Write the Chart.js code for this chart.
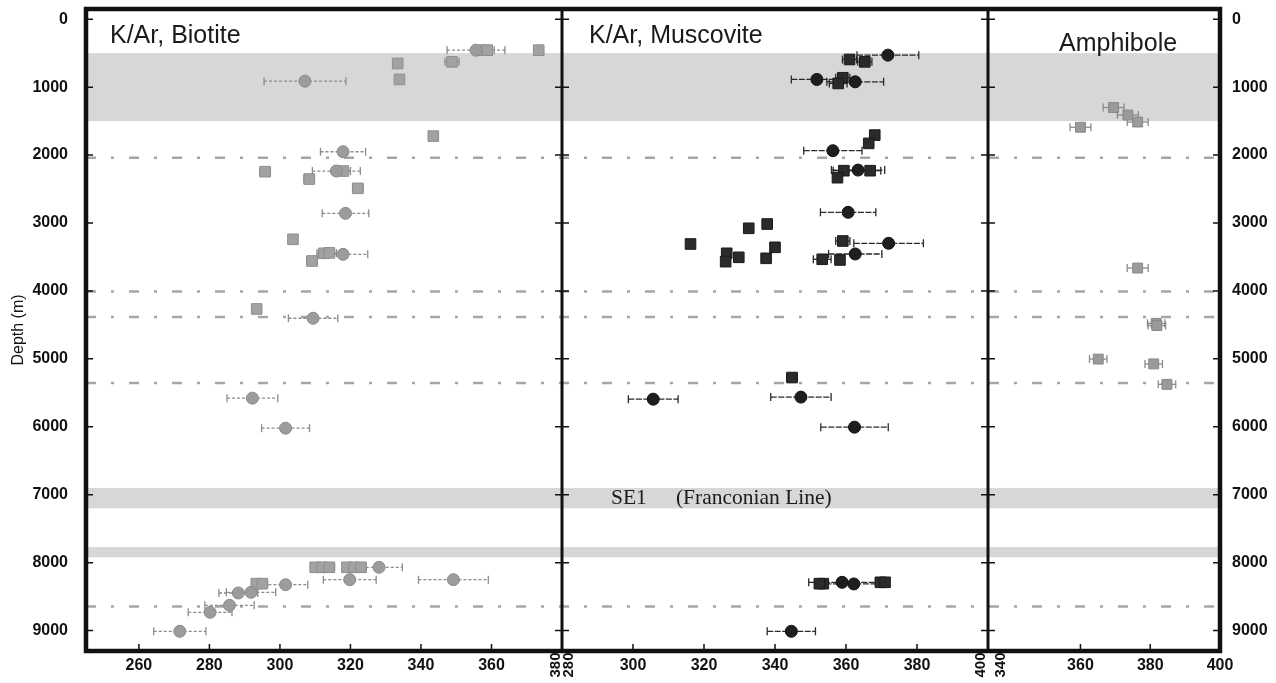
<!DOCTYPE html>
<html>
<head>
<meta charset="utf-8">
<script src="https://cdn.jsdelivr.net/npm/chart.js@4.4.1/dist/chart.umd.min.js"></script>
<style>
  html, body { margin: 0; padding: 0; background: #fff; }
  #wrap { width: 1276px; height: 683px; position: relative; }
</style>
</head>
<body>
<div id="wrap"><canvas id="chart"></canvas></div>
<script>
// K/Ar biotite (grey)
const bioCircleAge   = [355.6, 307.1, 317.9, 316.0, 318.6, 317.9, 309.4, 292.2, 301.6, 328.1, 319.8, 349.2, 301.6, 291.8, 288.2, 285.7, 280.2, 271.6];
const bioCircleDepth = [456, 912, 1951, 2235, 2858, 3461, 4402, 5578, 6020, 8068, 8250, 8250, 8324, 8436, 8446, 8628, 8730, 9010];
const bioCircleErr   = [8.2, 11.6, 6.4, 6.8, 6.6, 7.0, 7.0, 7.2, 6.8, 6.6, 7.5, 9.9, 6.3, 7.0, 5.5, 7.0, 6.2, 7.4];
const bioSquareAge   = [357.9, 358.8, 373.4, 348.8, 333.4, 333.9, 343.5, 295.8, 318.0, 308.3, 322.1, 303.7, 312.5, 314.0, 309.1, 293.4, 310.0, 312.0, 314.0, 319.0, 321.0, 323.0, 293.3, 295.0];
const bioSquareDepth = [456, 456, 456, 628, 652, 887, 1721, 2245, 2235, 2353, 2490, 3240, 3446, 3440, 3559, 4265, 8068, 8068, 8068, 8068, 8068, 8068, 8309, 8309];
const bioSquareErr   = [2, 2, 0, 2, 0, 0, 0, 1.5, 2, 1.5, 1.5, 0, 2, 2, 1.5, 0, 0, 0, 1.5, 0, 0, 1.5, 0, 1.5];

// K/Ar muscovite (black)
const musCircleAge   = [371.8, 351.8, 362.6, 356.3, 363.4, 360.6, 372.0, 362.6, 305.7, 347.3, 362.4, 358.9, 362.2, 344.6];
const musCircleDepth = [529, 887, 922, 1936, 2221, 2843, 3299, 3456, 5593, 5563, 6005, 8289, 8313, 9010];
const musCircleErr   = [8.7, 7.2, 8.0, 8.2, 7.5, 7.8, 9.8, 7.5, 7.0, 8.5, 9.5, 9.4, 8.0, 6.8];
const musSquareAge   = [361.0, 365.3, 359.1, 357.8, 368.1, 366.4, 359.4, 366.8, 357.6, 337.8, 332.6, 316.2, 359.1, 340.0, 326.4, 326.1, 329.8, 337.5, 353.3, 358.3, 344.8, 353.6, 352.5, 369.7, 371.0];
const musSquareDepth = [593, 628, 862, 946, 1706, 1828, 2230, 2230, 2333, 3015, 3078, 3309, 3265, 3358, 3446, 3569, 3505, 3520, 3534, 3544, 5275, 8309, 8309, 8289, 8289];
const musSquareErr   = [2, 2, 2, 2.5, 0, 0, 3, 3, 0, 0, 0, 0, 2, 0, 0, 0, 0, 0, 2.5, 0, 1.5, 0, 0, 0, 0];

// Amphibole (grey)
const ampAge   = [369.5, 373.6, 376.4, 360.0, 376.4, 381.7, 381.9, 365.1, 381.0, 384.8];
const ampDepth = [1300, 1411, 1514, 1591, 3663, 4477, 4509, 5003, 5074, 5375];
const ampErr   = [3, 3, 3, 3, 3, 2.5, 2.5, 2.5, 2.5, 2.5];

// axes
const depthTicks = [0, 1000, 2000, 3000, 4000, 5000, 6000, 7000, 8000, 9000];
const bioTicks = [260, 280, 300, 320, 340, 360];
const bioEdgeTicks = [380];
const musTicks = [300, 320, 340, 360, 380];
const musEdgeTicks = [280, 400];
const ampTicks = [360, 380, 400];
const ampEdgeTicks = [340];

// shaded zones and fault lines (depth, m)
const bandTop    = [500, 6900, 7770];
const bandBottom = [1500, 7200, 7920];
const faultDepths = [2040, 4010, 4385, 5355, 8645];

const pts = (xs, ys) => xs.map((x, i) => ({ x, y: ys[i] }));

const tickFont = { family: 'Liberation Sans, Arial, sans-serif', size: 16, weight: 'bold' };

const noPad = s => { s.paddingTop = 0; s.paddingBottom = 0; s.paddingLeft = 0; s.paddingRight = 0; };

const backgroundPlugin = {
  id: 'background',
  beforeDatasetsDraw(chart) {
    const { ctx, chartArea: a, scales } = chart;
    const y = scales.y;
    ctx.save();
    ctx.fillStyle = '#d7d7d7';
    bandTop.forEach((t, i) => {
      const y0 = y.getPixelForValue(t), y1 = y.getPixelForValue(bandBottom[i]);
      ctx.fillRect(a.left, y0, a.right - a.left, y1 - y0);
    });
    ctx.strokeStyle = '#a6a6a6';
    ctx.lineWidth = 2.5;
    ctx.setLineDash([10, 15, 3, 15]);
    faultDepths.forEach(d => {
      const py = y.getPixelForValue(d);
      ctx.beginPath();
      ctx.moveTo(a.left, py);
      ctx.lineTo(a.right, py);
      ctx.stroke();
    });
    ctx.restore();
  }
};

const errorBarPlugin = {
  id: 'errorBars',
  beforeDatasetsDraw(chart) {
    const ctx = chart.ctx;
    const ys = chart.scales.y;
    chart.data.datasets.forEach(ds => {
      if (!ds.errors) return;
      const xs = chart.scales[ds.xAxisID];
      ctx.save();
      ctx.strokeStyle = ds.barColor;
      ctx.lineWidth = 1.3;
      ds.data.forEach((p, j) => {
        const e = ds.errors[j];
        if (!e) return;
        const x0 = xs.getPixelForValue(p.x - e);
        const x1 = xs.getPixelForValue(p.x + e);
        const py = ys.getPixelForValue(p.y);
        ctx.setLineDash(ds.barDash || []);
        ctx.beginPath();
        ctx.moveTo(x0, py);
        ctx.lineTo(x1, py);
        ctx.stroke();
        ctx.setLineDash([]);
        ctx.beginPath();
        ctx.moveTo(x0, py - 4); ctx.lineTo(x0, py + 4);
        ctx.moveTo(x1, py - 4); ctx.lineTo(x1, py + 4);
        ctx.stroke();
      });
      ctx.restore();
    });
  }
};

const framePlugin = {
  id: 'frame',
  afterDraw(chart) {
    const { ctx, chartArea: a, scales } = chart;
    const panels = [scales.xBio, scales.xMus, scales.xAmp];
    const y = scales.y;
    ctx.save();
    // inner tick marks
    ctx.strokeStyle = '#111';
    ctx.lineWidth = 1.5;
    panels.forEach(p => {
      depthTicks.forEach(d => {
        const py = y.getPixelForValue(d);
        ctx.beginPath();
        ctx.moveTo(p.left, py); ctx.lineTo(p.left + 7, py);
        ctx.moveTo(p.right, py); ctx.lineTo(p.right - 7, py);
        ctx.stroke();
      });
      p.ticks.forEach(t => {
        const px = p.getPixelForValue(t.value);
        ctx.beginPath();
        ctx.moveTo(px, a.bottom); ctx.lineTo(px, a.bottom - 7);
        ctx.stroke();
      });
    });
    // frame and panel dividers
    ctx.lineWidth = 4.5;
    ctx.strokeRect(a.left, a.top, a.right - a.left, a.bottom - a.top);
    ctx.lineWidth = 3;
    [scales.xMus.left, scales.xAmp.left].forEach(px => {
      ctx.beginPath();
      ctx.moveTo(px, a.top); ctx.lineTo(px, a.bottom);
      ctx.stroke();
    });
    // rotated edge tick labels
    ctx.fillStyle = '#111';
    ctx.font = 'bold 15px "Liberation Sans", Arial, sans-serif';
    ctx.textAlign = 'center';
    ctx.textBaseline = 'middle';
    const rot = (scale, vals, shift) => vals.forEach(v => {
      ctx.save();
      ctx.translate(scale.getPixelForValue(v) + shift, a.bottom + 14);
      ctx.rotate(-Math.PI / 2);
      ctx.fillText(String(v), 0, 0);
      ctx.restore();
    });
    rot(scales.xBio, bioEdgeTicks, -6);
    rot(scales.xMus, [musEdgeTicks[0]], 7);
    rot(scales.xMus, [musEdgeTicks[1]], -7);
    rot(scales.xAmp, ampEdgeTicks, -10);
    // panel titles
    ctx.fillStyle = '#1a1a1a';
    ctx.textAlign = 'left';
    ctx.font = '25px "Liberation Sans", Arial, sans-serif';
    ctx.fillText('K/Ar, Biotite', scales.xBio.left + 24, 36);
    ctx.fillText('K/Ar, Muscovite', scales.xMus.left + 27, 36);
    ctx.fillText('Amphibole', scales.xAmp.left + 71, 44);
    // fault zone label
    ctx.font = '21.5px "Liberation Serif", "Times New Roman", serif';
    const ly = y.getPixelForValue(7060);
    ctx.fillText('SE1', scales.xMus.getPixelForValue(293.8), ly);
    ctx.fillText('(Franconian Line)', scales.xMus.getPixelForValue(312.1), ly);
    ctx.restore();
  }
};

const xAxis = (min, max, weight, ticks) => ({
  type: 'linear',
  position: 'bottom',
  stack: 'panels',
  stackWeight: weight,
  min, max,
  grid: { display: false, drawTicks: false },
  border: { display: false },
  afterBuildTicks: s => { s.ticks = ticks.map(v => ({ value: v })); },
  afterFit: s => { s.height = 32; noPad(s); },
  ticks: { font: tickFont, color: '#111', padding: 5, maxRotation: 0, autoSkip: false,
           callback: v => String(v) }
});

const yAxis = (position, width, padding) => ({
  type: 'linear',
  position,
  reverse: true,
  min: -150,
  max: 9300,
  grid: { display: false, drawTicks: false },
  border: { display: false },
  afterBuildTicks: s => { s.ticks = depthTicks.map(v => ({ value: v })); },
  afterFit: s => { s.width = width; noPad(s); },
  ticks: { font: tickFont, color: '#111', padding, callback: v => String(v) }
});

new Chart(document.getElementById('chart').getContext('2d'), {
  type: 'scatter',
  data: {
    datasets: [
      { data: pts(bioCircleAge, bioCircleDepth), errors: bioCircleErr, barColor: '#8c8c8c', barDash: [3, 2],
        xAxisID: 'xBio', yAxisID: 'y', pointStyle: 'circle', pointRadius: 6,
        backgroundColor: '#9c9c9c', borderColor: '#8a8a8a', borderWidth: 1 },
      { data: pts(bioSquareAge, bioSquareDepth), errors: bioSquareErr, barColor: '#8c8c8c', barDash: [2, 2],
        xAxisID: 'xBio', yAxisID: 'y', pointStyle: 'rect', pointRadius: 7.5,
        backgroundColor: '#a2a2a2', borderColor: '#8e8e8e', borderWidth: 1 },
      { data: pts(musCircleAge, musCircleDepth), errors: musCircleErr, barColor: '#2a2a2a', barDash: [6, 1.5],
        xAxisID: 'xMus', yAxisID: 'y', pointStyle: 'circle', pointRadius: 6,
        backgroundColor: '#1e1e1e', borderColor: '#111', borderWidth: 1 },
      { data: pts(musSquareAge, musSquareDepth), errors: musSquareErr, barColor: '#2a2a2a',
        xAxisID: 'xMus', yAxisID: 'y', pointStyle: 'rect', pointRadius: 7.5,
        backgroundColor: '#2b2b2b', borderColor: '#1a1a1a', borderWidth: 1 },
      { data: pts(ampAge, ampDepth), errors: ampErr, barColor: '#8c8c8c',
        xAxisID: 'xAmp', yAxisID: 'y', pointStyle: 'rect', pointRadius: 7,
        backgroundColor: '#9a9a9a', borderColor: '#888', borderWidth: 1 }
    ]
  },
  options: {
    responsive: true,
    maintainAspectRatio: false,
    animation: false,
    events: [],
    layout: { padding: { top: 9, left: 0, right: 0, bottom: 0 } },
    plugins: { legend: { display: false }, tooltip: { enabled: false } },
    scales: {
      xBio: xAxis(245, 380, 476, bioTicks),
      xMus: xAxis(280, 400, 426, musTicks),
      xAmp: xAxis(333.5, 400, 232, ampTicks),
      y: { ...yAxis('left', 86, 18),
           title: { display: true, text: 'Depth (m)', color: '#111', padding: { top: 9 },
                    font: { family: 'Liberation Sans, Arial, sans-serif', size: 16 } } },
      y2: yAxis('right', 56, 12)
    }
  },
  plugins: [backgroundPlugin, errorBarPlugin, framePlugin]
});
</script>
</body>
</html>
